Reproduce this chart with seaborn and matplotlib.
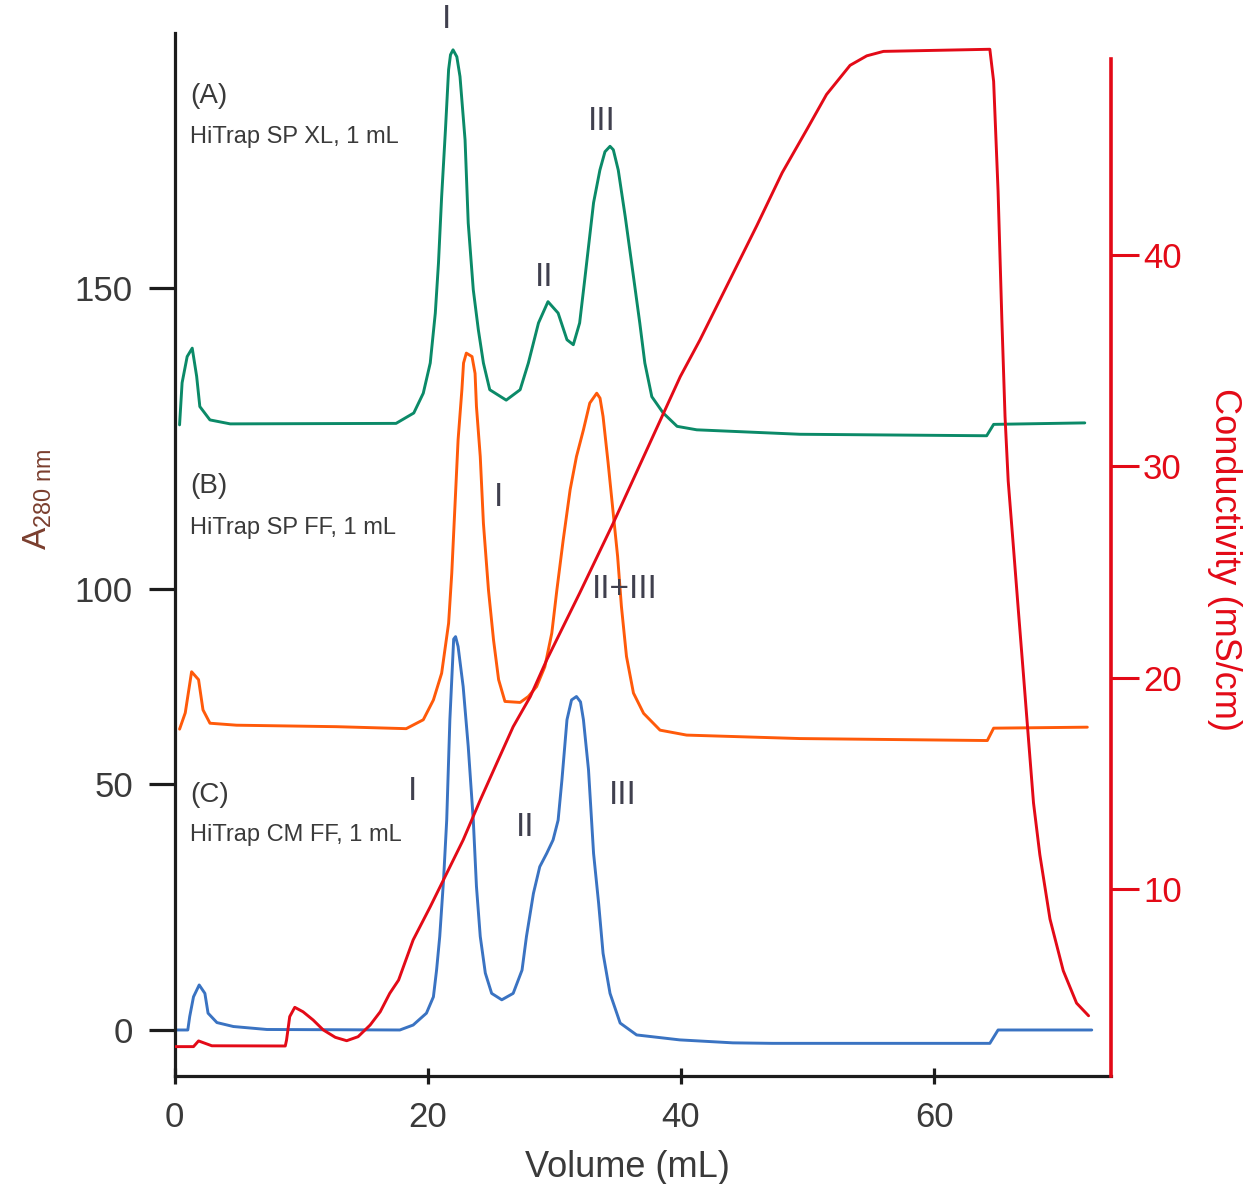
import matplotlib
matplotlib.use("Agg")
import matplotlib.pyplot as plt
import seaborn as sns
from matplotlib import font_manager

# ---------------- data ----------------
# (A) HiTrap SP XL, 1 mL  -- A280 trace (offset axis units)
vol_a = [0.4, 0.6, 1.0, 1.4, 1.75, 2.0, 2.8, 4.4, 17.5, 18.9, 19.65, 20.2, 20.6, 20.85,
         21.1, 21.4, 21.65, 21.8, 22.0, 22.3, 22.55, 22.95, 23.2, 23.6, 24.0, 24.4, 24.9,
         26.2, 27.3, 27.95, 28.75, 29.5, 30.3, 31.0, 31.5, 32.0, 32.4, 33.1, 33.6, 34.0,
         34.4, 34.66, 35.05, 35.6, 36.25, 36.75, 37.15, 37.7, 38.6, 39.7, 41.25, 49.4,
         64.15, 64.7, 71.9]
a280_a = [122.3, 130.8, 136.1, 137.8, 132.1, 126.0, 123.3, 122.5, 122.6, 124.7, 128.7, 134.8,
          144.9, 155.0, 168.4, 181.9, 194.1, 197.1, 198.1, 196.7, 192.7, 179.9, 163.1, 149.6,
          141.5, 134.8, 129.4, 127.3, 129.4, 134.8, 142.9, 147.2, 144.9, 139.5, 138.5, 142.9,
          151.6, 167.2, 173.8, 177.5, 178.6, 177.9, 173.8, 164.4, 152.3, 142.9, 134.8, 128.0,
          124.7, 122.0, 121.3, 120.4, 120.1, 122.4, 122.7]

# (B) HiTrap SP FF, 1 mL
vol_b = [0.4, 0.85, 1.35, 1.9, 2.25, 2.8, 4.9, 12.8, 18.3, 19.65, 20.45, 21.1, 21.65, 21.9,
         22.15, 22.4, 22.7, 22.83, 23.05, 23.5, 23.74, 23.85, 24.15, 24.4, 24.8, 25.2, 25.6,
         26.1, 27.3, 27.95, 28.6, 29.25, 29.8, 30.2, 30.7, 31.25, 31.75, 32.3, 32.8, 33.35,
         33.61, 33.85, 34.25, 34.65, 35.0, 35.3, 35.7, 36.25, 37.05, 38.35, 40.45, 49.4, 64.2,
         64.7, 72.1]
a280_b = [60.8, 64.1, 72.4, 70.8, 64.7, 62.0, 61.6, 61.3, 60.9, 62.7, 66.7, 72.1, 82.2, 92.3,
          105.8, 119.3, 129.4, 134.8, 136.8, 136.1, 132.7, 126.0, 115.9, 102.4, 88.9, 78.8,
          70.8, 66.4, 66.2, 67.4, 69.4, 73.4, 80.2, 88.9, 99.0, 109.2, 115.9, 121.3, 126.7,
          128.7, 127.7, 124.0, 114.6, 104.5, 95.7, 85.6, 75.5, 68.1, 64.0, 60.6, 59.6, 58.9,
          58.5, 61.0, 61.2]

# (C) HiTrap CM FF, 1 mL
vol_c = [0.2, 1.05, 1.2, 1.5, 1.95, 2.4, 2.65, 3.35, 4.65, 7.3, 17.8, 18.85, 19.9, 20.45,
         20.7, 20.95, 21.25, 21.5, 21.75, 22.05, 22.2, 22.4, 22.8, 23.2, 23.6, 23.85, 24.15,
         24.55, 25.05, 25.85, 26.75, 27.45, 27.8, 28.35, 28.85, 29.4, 29.9, 30.3, 30.6, 31.0,
         31.36, 31.75, 32.07, 32.3, 32.7, 33.1, 33.5, 33.85, 34.4, 35.2, 36.5, 39.9, 44.1,
         47.2, 64.4, 65.05, 72.45]
a280_c = [0.0, 0.0, 2.7, 6.7, 9.1, 7.4, 3.4, 1.5, 0.7, 0.1, 0.0, 1.0, 3.4, 6.7, 12.1, 18.9,
          30.3, 42.4, 62.7, 79.0, 79.5, 77.5, 69.4, 57.3, 42.4, 29.0, 18.9, 11.5, 7.4, 6.1,
          7.4, 12.1, 18.9, 27.6, 33.0, 35.7, 38.4, 42.4, 50.5, 62.7, 66.7, 67.4, 66.3, 62.7,
          52.6, 35.7, 25.6, 15.5, 7.4, 1.4, -1.0, -2.0, -2.6, -2.7, -2.7, 0.0, 0.0]

# Conductivity (mS/cm)
vol_cond = [0.0, 1.5, 1.9, 2.4, 2.95, 8.75, 8.85, 9.1, 9.5, 10.15, 10.95, 11.75, 12.7, 13.6,
            14.5, 15.45, 16.25, 17.0, 17.7, 18.85, 20.2, 21.5, 22.8, 24.15, 25.45, 26.75,
            28.1, 29.4, 32.0, 34.65, 37.3, 39.95, 41.5, 46.0, 48.0, 50.0, 51.5, 53.36,
            54.68, 56.0, 64.4, 64.7, 65.05, 65.35, 65.6, 65.85, 66.25, 66.65, 67.05, 67.45,
            67.85, 68.35, 69.15, 70.2, 71.25, 72.2]
cond = [2.54, 2.54, 2.81, 2.70, 2.58, 2.57, 2.85, 3.96, 4.40, 4.19, 3.80, 3.33, 2.98, 2.82,
        3.01, 3.56, 4.19, 5.06, 5.69, 7.59, 9.16, 10.74, 12.32, 14.21, 15.95, 17.68, 19.10,
        20.84, 24.0, 27.31, 30.78, 34.25, 35.98, 41.4, 43.9, 46.0, 47.6, 48.98, 49.43,
        49.64, 49.74, 48.22, 43.03, 36.93, 32.36, 29.31, 26.28, 23.20, 20.18, 17.11, 14.07,
        11.62, 8.58, 6.13, 4.60, 4.00]

x_ticks = [0, 20, 40, 60]
y_tick_labels = ["0", "50", "100", "150"]
y_tick_pos = [0, 49.73, 89.08, 150.05]   # uneven spacing as in the original figure
cond_ticks = [10, 20, 30, 40]

panel_tags = ["(A)", "(B)", "(C)"]
panel_names = ["HiTrap SP XL, 1 mL", "HiTrap SP FF, 1 mL", "HiTrap CM FF, 1 mL"]

# ---------------- style ----------------
sns.set_theme(style="ticks")
plt.rcParams["font.family"] = ["Liberation Sans", "DejaVu Sans"]
plt.rcParams["mathtext.fontset"] = "custom"
plt.rcParams["mathtext.rm"] = "Liberation Sans"
plt.rcParams["mathtext.it"] = "Liberation Sans"

names = {f.name for f in font_manager.fontManager.ttflist}
if "Liberation Sans Narrow" in names:
    narrow_font, narrow_size = "Liberation Sans Narrow", 20.5
else:
    narrow_font, narrow_size = "Liberation Sans", 17

GREEN = "#0b8a68"
ORANGE = "#ff5a0a"
BLUE = "#3a73c2"
RED = "#e30a17"
DARK = "#1c1c1c"
TXT = "#3a3a3a"
BROWN = "#7a3e2e"

W_PX, H_PX = 1243, 1184
fig = plt.figure(figsize=(W_PX / 100, H_PX / 100), dpi=100)
left_px, right_px, top_px, bot_px = 174.5, 1111, 33, 1076
ax = fig.add_axes([left_px / W_PX, (H_PX - bot_px) / H_PX,
                   (right_px - left_px) / W_PX, (bot_px - top_px) / H_PX])
ax2 = ax.twinx()

lw = 2.1
sns.lineplot(x=vol_a, y=a280_a, ax=ax, color=GREEN, lw=lw, estimator=None, sort=False)
sns.lineplot(x=vol_b, y=a280_b, ax=ax, color=ORANGE, lw=lw, estimator=None, sort=False)
sns.lineplot(x=vol_c, y=a280_c, ax=ax, color=BLUE, lw=lw, estimator=None, sort=False)
sns.lineplot(x=vol_cond, y=cond, ax=ax2, color=RED, lw=lw, estimator=None, sort=False)

ax.set_xlim(0, 73.97)
ax.set_ylim(-9.3, 201.5)
ax2.set_ylim(1.15, 50.51)

# spines
for s in ["top", "right"]:
    ax.spines[s].set_visible(False)
for s in ["left", "bottom"]:
    ax.spines[s].set_linewidth(2.3)
    ax.spines[s].set_color(DARK)
for s in ["top", "left", "bottom"]:
    ax2.spines[s].set_visible(False)
ax2.spines["right"].set_color(RED)
ax2.spines["right"].set_linewidth(2.6)
ax2.spines["right"].set_bounds(1.15, 49.28)

# ticks
ax.set_xticks(x_ticks)
ax.set_xticklabels([str(t) for t in x_ticks])
ax.set_yticks(y_tick_pos)
ax.set_yticklabels(y_tick_labels)
ax.tick_params(axis="x", direction="inout", length=11.5, width=2.3, color=DARK,
               labelsize=25, labelcolor=TXT, pad=12.5)
ax.tick_params(axis="y", direction="out", length=19, width=2.3, color=DARK,
               labelsize=25, labelcolor=TXT, pad=11)
ax2.set_yticks(cond_ticks)
ax2.set_yticklabels([str(t) for t in cond_ticks])
ax2.tick_params(axis="y", direction="out", length=20, width=2.2, color=RED,
                labelsize=25, labelcolor=RED, pad=3)

# axis labels
ax.set_xlabel("Volume (mL)", fontsize=26, color=TXT)
ax.xaxis.set_label_coords(0.484, -0.071)
ax.set_ylabel(r"A$_{\rm 280\ nm}$", fontsize=24, color=BROWN)
ax.yaxis.label.set_ha("center")
ax.yaxis.label.set_va("center")
ax.yaxis.set_label_coords(-0.146, 0.553)
ax2.set_ylabel("Conductivity (mS/cm)", fontsize=26, color=RED, rotation=270)
ax2.yaxis.label.set_ha("center")
ax2.yaxis.label.set_va("center")
ax2.yaxis.set_label_coords(1.1217, 0.495)

# panel annotations
tag_y = [188.8, 110.0, 47.5]
name_y = [180.5, 101.5, 39.4]
for tag, nm, ty, ny in zip(panel_tags, panel_names, tag_y, name_y):
    ax.text(1.22, ty, tag, fontsize=20, color=TXT, ha="left", va="center")
    ax.text(1.22, ny, nm, fontsize=narrow_size, family=[narrow_font, "Liberation Sans"],
            color=TXT, ha="left", va="center")

peak_labels = [("I", 21.52, 204.2), ("II", 29.16, 152.1), ("III", 33.77, 183.7),
               ("I", 25.63, 107.6), ("II+III", 35.58, 89.0),
               ("I", 18.76, 48.2), ("II", 27.69, 40.9), ("III", 35.43, 47.4)]
for s, xv, yv in peak_labels:
    ax.text(xv, yv, s, fontsize=24, color="#40404e", ha="center", va="center")

fig.savefig("out.png", dpi=100)
